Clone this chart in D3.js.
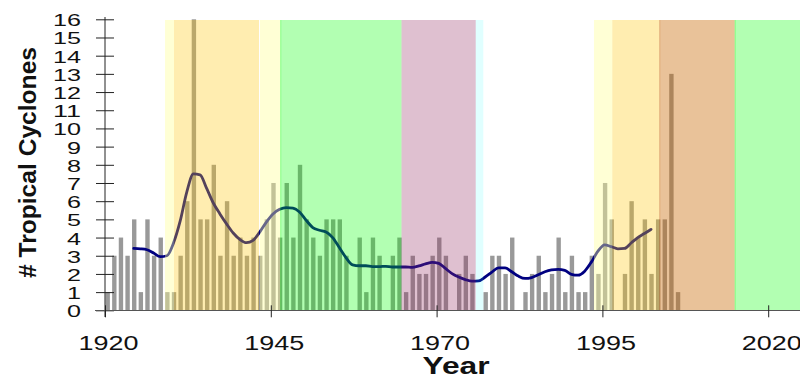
<!DOCTYPE html>
<html>
<head>
<meta charset="utf-8">
<script src="https://cdn.jsdelivr.net/npm/d3@7"></script>
<style>
  body { margin: 0; background: #fff; }
  svg { display: block; font-family: "Liberation Sans", Arial, sans-serif; }
</style>
</head>
<body>
<svg id="chart" width="800" height="378"></svg>
<script>
// Annual tropical cyclone counts, one value per year starting at countStartYear
const countStartYear = 1920;
const stormCounts = [
  1, 3, 4, 3, 5, 1, 5, 3, 4, 1,      // 1920-1929
  1, 3, 6, 16, 5, 5, 8, 3, 6, 3,     // 1930-1939
  4, 3, 4, 3, 5, 7, 4, 7, 4, 8,      // 1940-1949
  5, 4, 3, 5, 5, 5, 3, 0, 4, 1,      // 1950-1959
  4, 3, 0, 3, 4, 1, 3, 2, 2, 3,      // 1960-1969
  4, 3, 0, 2, 3, 2, 0, 1, 3, 3,      // 1970-1979
  2, 4, 0, 1, 2, 3, 1, 2, 4, 1,      // 1980-1989
  3, 1, 1, 3, 2, 7, 5, 0, 2, 6,      // 1990-1999
  4, 5, 2, 5, 5, 13, 1               // 2000-2006
];

// Smoothed trend, one value per year starting at smoothStartYear
const smoothStartYear = 1924;
const smoothCounts = [
  3.40, 3.38, 3.33, 3.15, 2.95, 3.00,               // 1924-1929
  3.70, 4.90, 6.50, 7.50, 7.45, 6.70, 5.90, 5.30, 4.75, 4.25, // 1930-1939
  3.90, 3.72, 3.85, 4.30, 4.85, 5.30, 5.55, 5.65, 5.62, 5.40, // 1940-1949
  4.95, 4.55, 4.40, 4.30, 4.00, 3.45, 2.90, 2.50, 2.45, 2.45, // 1950-1959
  2.40, 2.40, 2.42, 2.38, 2.38, 2.38, 2.36, 2.44, 2.55, 2.64, // 1960-1969
  2.58, 2.30, 2.02, 1.83, 1.69, 1.60, 1.62, 1.83, 2.10, 2.33, // 1970-1979
  2.33, 2.12, 1.88, 1.75, 1.80, 1.95, 2.12, 2.22, 2.25, 2.20, // 1980-1989
  1.98, 1.93, 2.15, 2.65, 3.25, 3.60, 3.50, 3.38, 3.40, 3.70, // 1990-1999
  4.00, 4.22, 4.45                                   // 2000-2002
];

// Shaded climate phases (decimal years)
const phaseStart = [1929.05, 1930.40, 1943.37, 1946.43, 1964.71, 1975.90, 1993.73, 1996.49, 2003.58, 2014.95];
const phaseEnd   = [1930.40, 1943.22, 1946.43, 1964.71, 1975.90, 1977.04, 1996.49, 2003.58, 2014.95, 2027];
const phaseKind  = ["pale", "warm", "pale", "green", "mauve", "cyan", "pale", "warm", "brown", "green"];

const xTickYears = [1920, 1945, 1970, 1995, 2020];
const yTickValues = [0, 1, 2, 3, 4, 5, 6, 7, 8, 9, 10, 11, 12, 13, 14, 15, 16];

const phaseStyle = {
  pale:  { color: "rgb(255,255,150)", opacity: 0.40 },
  warm:  { color: "rgb(255,200,15)",  opacity: 0.33 },
  green: { color: "rgb(0,255,0)",     opacity: 0.30 },
  mauve: { color: "rgb(148,45,98)",   opacity: 0.30 },
  cyan:  { color: "rgb(0,255,255)",   opacity: 0.12 },
  brown: { color: "rgb(200,102,0)",   opacity: 0.40 }
};

const svg = d3.select("#chart");

const x = d3.scaleLinear().domain([1920, 2025]).range([105, 105 + 105 * 6.632]);
const y = d3.scaleLinear().domain([0, 16]).range([310.3, 19.3]);

const barData = stormCounts.map((v, i) => ({ year: countStartYear + i, value: v }));
const smoothData = smoothCounts.map((v, i) => ({ year: smoothStartYear + i, value: v }));
const phaseData = phaseStart.map((s, i) => ({ start: s, end: phaseEnd[i], kind: phaseKind[i] }));

// Bars
svg.append("g").selectAll("rect")
  .data(barData.filter(d => d.value > 0))
  .join("rect")
  .attr("x", d => x(d.year) + 0.5)
  .attr("width", d => x(d.year + 0.66) - x(d.year))
  .attr("y", d => y(d.value))
  .attr("height", d => y(0) - y(d.value))
  .attr("fill", "#999");

// Smoothed trend line
const line = d3.line()
  .x(d => x(d.year + 0.33))
  .y(d => y(d.value))
  .curve(d3.curveMonotoneX);

svg.append("path")
  .datum(smoothData)
  .attr("d", line)
  .attr("fill", "none")
  .attr("stroke", "#000080")
  .attr("stroke-width", 2.8)
  .attr("stroke-linejoin", "round")
  .attr("stroke-linecap", "round");

// Translucent phase shading laid over bars and trend
const plotRight = 800;
svg.append("g").selectAll("rect")
  .data(phaseData)
  .join("rect")
  .attr("x", d => x(d.start))
  .attr("width", d => Math.min(x(d.end), plotRight) - x(d.start))
  .attr("y", y(16) + 0.7)
  .attr("height", y(0) - y(16) - 0.7)
  .attr("fill", d => phaseStyle[d.kind].color)
  .attr("fill-opacity", d => phaseStyle[d.kind].opacity);

// Faint edge lines on green and brown phases
svg.append("g").selectAll("line")
  .data(phaseData.filter(d => d.kind === "green" || d.kind === "brown"))
  .join("line")
  .attr("x1", d => x(d.start) + 0.5)
  .attr("x2", d => x(d.start) + 0.5)
  .attr("y1", y(16) + 0.7)
  .attr("y2", y(0))
  .attr("stroke", d => phaseStyle[d.kind].color)
  .attr("stroke-opacity", 0.25);

// Y axis
const yAxis = svg.append("g")
  .attr("transform", "translate(105,0)")
  .call(d3.axisLeft(y).tickValues(yTickValues).tickSize(9).tickFormat(d3.format("d")));
yAxis.select(".domain").remove();
yAxis.selectAll(".tick line").attr("x1", 9).attr("x2", -9).attr("stroke", "#222");
yAxis.selectAll(".tick text")
  .attr("x", -24)
  .attr("dy", "0.38em")
  .attr("font-size", 17)
  .attr("fill", "#111")
  .attr("font-family", "Liberation Sans, Arial, sans-serif")
  .attr("textLength", d => String(d).length * 14)
  .attr("lengthAdjust", "spacingAndGlyphs");
yAxis.append("line")
  .attr("x1", 0).attr("x2", 0)
  .attr("y1", 17).attr("y2", 317)
  .attr("stroke", "#222");

// X axis
svg.append("line")
  .attr("x1", 95).attr("x2", 800)
  .attr("y1", y(0) + 0.2).attr("y2", y(0) + 0.2)
  .attr("stroke", "#555");

const xAxis = svg.append("g")
  .attr("transform", `translate(0,${y(0)})`)
  .call(d3.axisBottom(x).tickValues(xTickYears).tickSize(7).tickFormat(d3.format("d")));
xAxis.select(".domain").remove();
xAxis.selectAll(".tick line").attr("y1", -5).attr("y2", 7).attr("stroke", "#222");
xAxis.selectAll(".tick text")
  .attr("x", 3)
  .attr("y", 40)
  .attr("dy", 0)
  .attr("font-size", 19.5)
  .attr("fill", "#111")
  .attr("font-family", "Liberation Sans, Arial, sans-serif")
  .attr("textLength", 60)
  .attr("lengthAdjust", "spacingAndGlyphs");

// Axis titles
svg.append("text")
  .attr("x", 456)
  .attr("y", 374)
  .attr("text-anchor", "middle")
  .attr("font-size", 24)
  .attr("font-weight", "bold")
  .attr("fill", "#111")
  .attr("textLength", 67)
  .attr("lengthAdjust", "spacingAndGlyphs")
  .text("Year");

svg.append("text")
  .attr("transform", "translate(36,162.5) rotate(-90)")
  .attr("text-anchor", "middle")
  .attr("font-size", 24.5)
  .attr("font-weight", "bold")
  .attr("fill", "#111")
  .attr("textLength", 231)
  .attr("lengthAdjust", "spacingAndGlyphs")
  .text("# Tropical Cyclones");
</script>
</body>
</html>
